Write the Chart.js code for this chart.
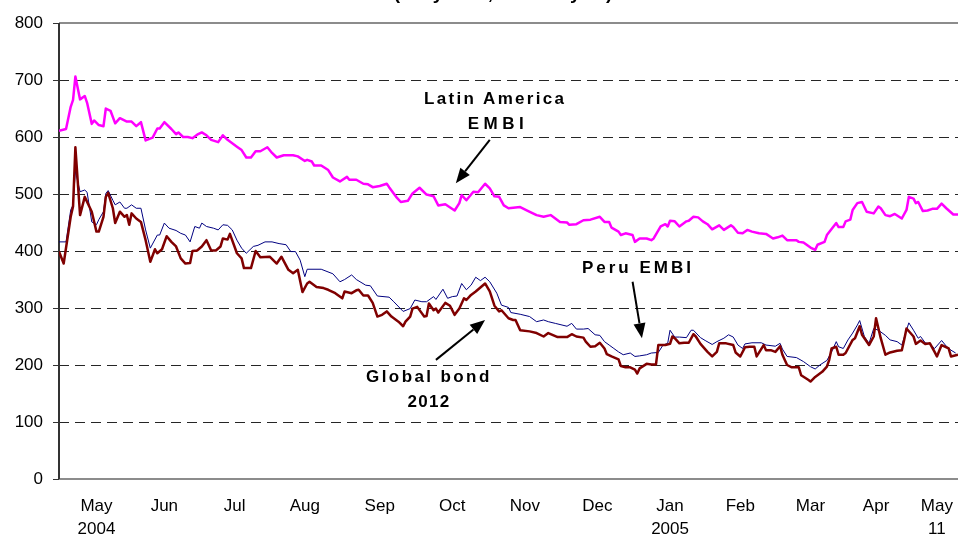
<!DOCTYPE html>
<html>
<head>
<meta charset="utf-8">
<script src="https://cdn.jsdelivr.net/npm/chart.js@4.4.0/dist/chart.umd.min.js"></script>
<style>
  html, body { margin: 0; padding: 0; background: #fff; }
  #chart { display: block; }
</style>
</head>
<body>
<canvas id="chart" width="958" height="537"></canvas>
<script>
// days counted from 1 May 2004, spreads in basis points
const latamDays = [0, 3, 5, 6, 7, 9, 11, 12, 14, 15, 17, 19, 20, 22, 24, 26, 29, 31, 33, 35, 37, 40, 42, 43, 45, 48, 50, 51, 53, 55, 57, 59, 61, 63, 65, 68, 70, 72, 76, 78, 80, 82, 84, 86, 89, 91, 93, 96, 100, 102, 105, 106, 108, 109, 112, 115, 117, 120, 123, 124, 127, 130, 132, 134, 137, 140, 141, 144, 146, 149, 151, 154, 157, 160, 162, 165, 169, 171, 172, 174, 177, 179, 182, 184, 186, 188, 190, 192, 197, 200, 204, 207, 210, 214, 217, 218, 221, 224, 227, 231, 233, 235, 236, 239, 240, 242, 245, 246, 248, 251, 253, 254, 257, 259, 260, 261, 263, 265, 268, 269, 271, 273, 275, 277, 279, 282, 284, 287, 288, 290, 292, 294, 296, 299, 302, 305, 307, 309, 311, 315, 316, 318, 321, 323, 324, 327, 328, 332, 333, 335, 336, 338, 339, 341, 343, 345, 348, 350, 351, 353, 355, 357, 360, 362, 363, 365, 366, 367, 369, 371, 373, 375, 377, 379, 382, 384];
const latamSpread = [611, 614, 653, 665, 706, 666, 672, 660, 623, 629, 621, 619, 650, 646, 624, 633, 627, 627, 619, 626, 594, 599, 615, 615, 626, 614, 605, 608, 600, 600, 598, 604, 608, 603, 595, 591, 603, 595, 583, 577, 564, 564, 575, 575, 582, 572, 564, 568, 568, 566, 558, 560, 557, 550, 550, 542, 529, 522, 530, 525, 525, 518, 517, 512, 514, 518, 512, 495, 486, 488, 501, 511, 499, 496, 480, 482, 471, 484, 498, 489, 504, 503, 518, 510, 496, 495, 480, 475, 477, 471, 463, 460, 463, 451, 450, 446, 447, 454, 455, 460, 451, 451, 441, 434, 428, 431, 428, 416, 422, 422, 419, 422, 443, 447, 443, 453, 452, 443, 452, 453, 460, 459, 452, 447, 438, 445, 437, 445, 442, 432, 431, 437, 434, 431, 430, 422, 424, 427, 419, 419, 416, 415, 406, 402, 411, 416, 428, 449, 442, 442, 452, 455, 472, 484, 486, 469, 466, 478, 475, 463, 461, 465, 457, 472, 495, 492, 484, 486, 470, 471, 474, 474, 483, 475, 464, 464];

const peruDays = [0, 3, 5, 6, 7, 9, 11, 12, 14, 16, 17, 19, 20, 21, 23, 24, 26, 28, 29, 31, 33, 35, 37, 39, 42, 43, 45, 47, 50, 52, 54, 56, 58, 60, 61, 63, 66, 68, 70, 72, 74, 76, 78, 80, 83, 85, 88, 91, 94, 97, 99, 101, 103, 105, 106, 112, 117, 120, 122, 125, 127, 131, 133, 136, 141, 143, 147, 150, 152, 155, 157, 160, 161, 164, 166, 168, 170, 172, 174, 176, 178, 180, 182, 184, 187, 189, 192, 193, 197, 201, 204, 207, 209, 212, 217, 219, 221, 224, 226, 229, 231, 233, 235, 237, 239, 241, 244, 246, 248, 251, 253, 256, 258, 260, 261, 263, 265, 268, 270, 271, 274, 276, 279, 281, 284, 286, 288, 290, 292, 293, 296, 300, 302, 306, 308, 309, 311, 315, 318, 321, 323, 325, 328, 330, 332, 333, 335, 337, 339, 341, 342, 344, 346, 348, 350, 353, 355, 358, 360, 363, 365, 367, 368, 370, 372, 374, 377, 379, 381, 383];
const peruSpread = [416, 416, 472, 481, 540, 504, 507, 503, 451, 446, 455, 469, 501, 506, 489, 481, 486, 475, 475, 481, 475, 475, 437, 405, 428, 428, 449, 440, 436, 431, 428, 416, 443, 440, 449, 443, 440, 437, 446, 445, 437, 419, 405, 396, 408, 410, 416, 416, 413, 411, 399, 399, 384, 355, 368, 368, 360, 346, 350, 358, 350, 340, 339, 321, 319, 311, 294, 299, 314, 311, 311, 320, 315, 333, 317, 320, 321, 343, 332, 340, 354, 348, 354, 346, 326, 305, 301, 292, 289, 285, 276, 279, 276, 273, 268, 273, 263, 263, 264, 253, 252, 241, 235, 229, 223, 218, 221, 215, 216, 218, 221, 222, 235, 238, 261, 249, 249, 248, 261, 261, 248, 243, 236, 241, 247, 253, 249, 235, 229, 237, 239, 239, 235, 233, 238, 228, 215, 213, 206, 197, 193, 200, 208, 223, 241, 232, 229, 244, 256, 270, 278, 250, 238, 264, 261, 252, 244, 241, 235, 274, 261, 247, 250, 239, 237, 229, 243, 233, 226, 221];

const bondDays = [0, 2, 5, 6, 7, 9, 11, 14, 16, 17, 19, 20, 21, 23, 24, 26, 28, 29, 30, 31, 33, 35, 37, 39, 41, 42, 44, 46, 48, 50, 52, 54, 56, 57, 59, 61, 63, 65, 67, 69, 70, 72, 73, 76, 78, 79, 82, 84, 86, 90, 93, 95, 98, 100, 102, 104, 106, 107, 110, 113, 115, 118, 121, 122, 125, 127, 128, 130, 132, 134, 136, 138, 140, 142, 145, 147, 148, 150, 151, 153, 156, 157, 158, 160, 161, 162, 165, 167, 169, 171, 173, 174, 176, 178, 182, 184, 186, 188, 189, 192, 194, 195, 197, 201, 204, 207, 209, 213, 217, 219, 221, 224, 225, 227, 229, 231, 233, 234, 236, 239, 240, 242, 244, 246, 247, 248, 251, 253, 255, 256, 259, 261, 262, 263, 265, 267, 269, 271, 272, 274, 277, 279, 281, 282, 285, 288, 289, 291, 293, 295, 297, 298, 301, 302, 304, 306, 308, 309, 311, 313, 316, 317, 320, 321, 323, 326, 328, 329, 330, 332, 333, 335, 336, 339, 340, 342, 343, 346, 348, 349, 351, 353, 355, 358, 360, 361, 362, 365, 366, 368, 370, 372, 374, 375, 377, 380, 381, 384];
const bondSpread = [399, 378, 460, 478, 582, 463, 495, 469, 434, 434, 460, 495, 502, 475, 449, 469, 460, 463, 446, 466, 457, 451, 419, 381, 403, 396, 403, 426, 416, 408, 387, 378, 379, 400, 401, 408, 419, 401, 401, 408, 422, 420, 430, 396, 387, 370, 370, 400, 389, 390, 378, 390, 367, 361, 367, 328, 343, 346, 337, 335, 332, 326, 317, 329, 326, 331, 332, 322, 322, 309, 285, 288, 294, 285, 276, 268, 276, 285, 299, 302, 285, 286, 308, 296, 299, 292, 309, 304, 288, 299, 317, 314, 323, 329, 343, 329, 304, 294, 296, 282, 279, 279, 261, 259, 256, 250, 256, 249, 249, 254, 250, 248, 241, 232, 233, 239, 229, 219, 215, 210, 198, 196, 196, 192, 185, 194, 202, 201, 201, 235, 235, 237, 250, 247, 238, 239, 239, 254, 250, 237, 223, 215, 223, 238, 238, 235, 222, 215, 231, 232, 232, 215, 235, 226, 226, 223, 233, 218, 200, 196, 196, 182, 174, 171, 179, 188, 197, 209, 229, 232, 218, 218, 221, 244, 247, 268, 253, 235, 250, 282, 247, 218, 222, 225, 226, 244, 264, 250, 237, 243, 237, 238, 223, 215, 235, 229, 215, 218];

// x-axis labels, placed on days from 1 May 2004
const monthTickDays = [16, 45, 75, 105, 137, 168, 199, 230, 261, 291, 321, 349, 375];
const monthLabels = ['May', 'Jun', 'Jul', 'Aug', 'Sep', 'Oct', 'Nov', 'Dec', 'Jan', 'Feb', 'Mar', 'Apr', 'May'];
const yearLabels = ['2004', '', '', '', '', '', '', '', '2005', '', '', '', '11'];

const toPoints = (days, vals) => days.map((d, i) => ({ x: d, y: vals[i] }));

// text notes and arrows, in data units (day, spread)
const notes = [
  { text: 'Latin America', day: 186.3, value: 666, spacing: 2.3 },
  { text: 'EMBI', day: 187.5, value: 622, spacing: 4.5 },
  { text: 'Peru EMBI', day: 247.3, value: 369, spacing: 3 },
  { text: 'Global bond', day: 158, value: 178, spacing: 2.4 },
  { text: '2012', day: 158, value: 134, spacing: 1.3 }
];
const arrows = [
  { from: [184, 595], to: [169.5, 519] },
  { from: [245, 346], to: [249, 247] },
  { from: [161, 209], to: [182, 279] }
];

Chart.defaults.font.family = '"Liberation Sans", Arial, sans-serif';
Chart.defaults.color = '#000';

const guides = {
  id: 'guides',
  beforeDatasetsDraw(chart) {
    const { ctx, chartArea: a, scales: { y } } = chart;
    ctx.save();
    ctx.lineWidth = 1;
    ctx.strokeStyle = '#262626';
    ctx.setLineDash([10, 6]);
    y.ticks.forEach(t => {
      if (t.value === 0 || t.value === 800) return;
      const py = Math.round(y.getPixelForValue(t.value)) + 0.5;
      ctx.beginPath();
      ctx.moveTo(a.left, py);
      ctx.lineTo(a.right, py);
      ctx.stroke();
    });
    ctx.setLineDash([]);
    ctx.strokeStyle = '#8c8c8c';
    ctx.lineWidth = 2;
    [0, 800].forEach(v => {
      const py = y.getPixelForValue(v);
      ctx.beginPath();
      ctx.moveTo(a.left, py);
      ctx.lineTo(a.right, py);
      ctx.stroke();
    });
    ctx.strokeStyle = '#333';
    ctx.beginPath();
    ctx.moveTo(a.left, a.top);
    ctx.lineTo(a.left, a.bottom);
    ctx.stroke();
    ctx.restore();
  },
  afterDraw(chart) {
    const { ctx, scales: { x, y } } = chart;
    ctx.save();
    ctx.fillStyle = '#000';
    ctx.textAlign = 'center';

    // title, mostly above the top edge of the picture
    ctx.font = 'bold 19px "Liberation Sans", Arial, sans-serif';
    ctx.textBaseline = 'alphabetic';
    ctx.fillText('(daily data, until May 11)', 503, -1);

    ctx.font = 'bold 17px "Liberation Sans", Arial, sans-serif';
    ctx.textBaseline = 'middle';
    notes.forEach(n => {
      ctx.letterSpacing = n.spacing + 'px';
      ctx.fillText(n.text, x.getPixelForValue(n.day), y.getPixelForValue(n.value));
    });
    ctx.letterSpacing = '0px';

    ctx.strokeStyle = '#000';
    ctx.lineWidth = 2;
    arrows.forEach(ar => {
      const x1 = x.getPixelForValue(ar.from[0]), y1 = y.getPixelForValue(ar.from[1]);
      const x2 = x.getPixelForValue(ar.to[0]), y2 = y.getPixelForValue(ar.to[1]);
      const ang = Math.atan2(y2 - y1, x2 - x1);
      const head = 15, half = 6;
      const bx = x2 - head * Math.cos(ang), by = y2 - head * Math.sin(ang);
      ctx.beginPath();
      ctx.moveTo(x1, y1);
      ctx.lineTo(bx, by);
      ctx.stroke();
      ctx.beginPath();
      ctx.moveTo(x2, y2);
      ctx.lineTo(bx + half * Math.sin(ang), by - half * Math.cos(ang));
      ctx.lineTo(bx - half * Math.sin(ang), by + half * Math.cos(ang));
      ctx.closePath();
      ctx.fill();
    });
    ctx.restore();
  }
};

new Chart(document.getElementById('chart').getContext('2d'), {
  type: 'line',
  data: {
    datasets: [
      {
        label: 'Global bond 2012',
        data: toPoints(bondDays, bondSpread),
        borderColor: '#800000',
        borderWidth: 2.5,
        order: 1
      },
      {
        label: 'Peru EMBI',
        data: toPoints(peruDays, peruSpread),
        borderColor: '#000080',
        borderWidth: 1,
        order: 2
      },
      {
        label: 'Latin America EMBI',
        data: toPoints(latamDays, latamSpread),
        borderColor: '#ff00ff',
        borderWidth: 2.5,
        order: 3
      }
    ]
  },
  options: {
    responsive: false,
    animation: false,
    layout: { padding: { top: 23, right: 0, bottom: 0, left: 0 } },
    elements: {
      point: { radius: 0 },
      line: { tension: 0, borderJoinStyle: 'round' }
    },
    plugins: {
      legend: { display: false },
      tooltip: { enabled: false }
    },
    scales: {
      x: {
        type: 'linear',
        min: 0,
        max: 384,
        grid: { display: false, drawTicks: false, tickLength: 0 },
        border: { display: false },
        afterBuildTicks: axis => { axis.ticks = monthTickDays.map(v => ({ value: v })); },
        afterFit: axis => {
          axis.height = 58;
          axis.paddingLeft = 0;
          axis.paddingRight = 0;
        },
        ticks: {
          autoSkip: false,
          maxRotation: 0,
          padding: 16,
          font: { size: 17, lineHeight: 1.35 },
          callback: value => {
            const i = monthTickDays.indexOf(value);
            if (i < 0) return '';
            return yearLabels[i] ? [monthLabels[i], yearLabels[i]] : monthLabels[i];
          }
        }
      },
      y: {
        min: 0,
        max: 800,
        afterFit: axis => { axis.width = 59; },
        grid: { drawOnChartArea: false, drawTicks: true, tickLength: 6, color: '#333' },
        border: { display: false },
        ticks: { stepSize: 100, padding: 10, font: { size: 17 } }
      }
    }
  },
  plugins: [guides]
});
</script>
</body>
</html>
